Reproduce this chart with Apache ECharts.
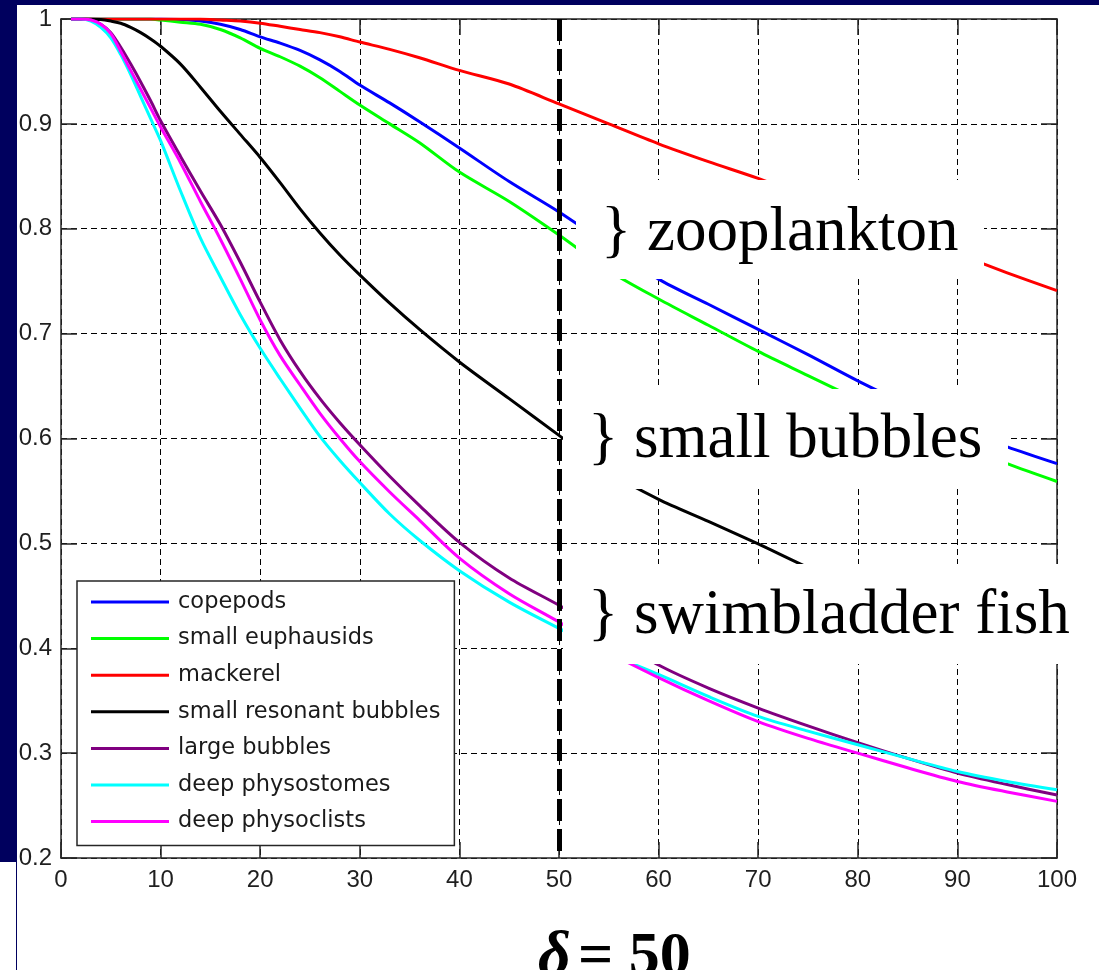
<!DOCTYPE html>
<html>
<head>
<meta charset="utf-8">
<title>Detection probability vs depth</title>
<script src="https://cdn.jsdelivr.net/npm/echarts@6/dist/echarts.min.js"></script>
<style>
  html, body { margin: 0; padding: 0; background: #ffffff; }
  #chart { width: 1099px; height: 970px; }
</style>
</head>
<body>
<div id="chart"></div>
<script>
// Sample positions shared by every curve
const xs = [1, 2, 3, 4, 5, 6, 7, 8, 9, 10, 12, 14, 16, 18, 20, 22, 24, 26, 28, 30, 33, 36, 40, 45, 50, 55, 60, 65, 70, 75, 80, 85, 90, 95, 100];

const copepods = [1, 1, 1, 1, 1, 1, 1, 1, 1, 1, 0.9995, 0.998, 0.995, 0.99, 0.983, 0.977, 0.97, 0.961, 0.95, 0.937, 0.92, 0.902, 0.877, 0.845, 0.816, 0.784, 0.752, 0.728, 0.704, 0.68, 0.655, 0.632, 0.61, 0.592, 0.576];
const smallEuphausids = [1, 1, 1, 1, 1, 1, 1, 1, 1, 0.999, 0.997, 0.995, 0.99, 0.982, 0.972, 0.964, 0.955, 0.944, 0.931, 0.918, 0.9, 0.882, 0.854, 0.826, 0.794, 0.76, 0.733, 0.708, 0.683, 0.66, 0.637, 0.614, 0.595, 0.576, 0.559];
const mackerel = [1, 1, 1, 1, 1, 1, 1, 1, 1, 1, 1, 1, 0.999, 0.998, 0.996, 0.993, 0.99, 0.987, 0.983, 0.978, 0.971, 0.963, 0.951, 0.938, 0.919, 0.9, 0.881, 0.864, 0.848, 0.83, 0.812, 0.794, 0.776, 0.758, 0.741];
const smallResonantBubbles = [1, 1, 1, 0.9995, 0.998, 0.996, 0.992, 0.987, 0.981, 0.974, 0.957, 0.935, 0.912, 0.89, 0.868, 0.844, 0.819, 0.796, 0.775, 0.756, 0.729, 0.704, 0.673, 0.638, 0.603, 0.568, 0.542, 0.521, 0.4995, 0.477, 0.457, 0.44, 0.425, 0.41, 0.395];
const largeBubbles = [1, 1, 0.999, 0.995, 0.987, 0.973, 0.957, 0.94, 0.922, 0.903, 0.869, 0.836, 0.804, 0.768, 0.73, 0.694, 0.664, 0.638, 0.615, 0.594, 0.564, 0.536, 0.501, 0.467, 0.441, 0.413, 0.384, 0.362, 0.343, 0.326, 0.31, 0.295, 0.281, 0.27, 0.26];
const deepPhysostomes = [1, 1, 0.998, 0.992, 0.982, 0.966, 0.947, 0.926, 0.905, 0.884, 0.836, 0.791, 0.754, 0.718, 0.686, 0.657, 0.629, 0.602, 0.579, 0.558, 0.528, 0.503, 0.474, 0.444, 0.419, 0.395, 0.375, 0.354, 0.335, 0.321, 0.308, 0.295, 0.2825, 0.273, 0.265];
const deepPhysoclists = [1, 1, 0.999, 0.995, 0.986, 0.969, 0.951, 0.933, 0.915, 0.897, 0.863, 0.826, 0.79, 0.752, 0.713, 0.679, 0.651, 0.624, 0.6, 0.578, 0.549, 0.522, 0.486, 0.452, 0.425, 0.396, 0.372, 0.35, 0.33, 0.314, 0.3, 0.286, 0.273, 0.263, 0.254];

const seriesNames = ['copepods', 'small euphausids', 'mackerel', 'small resonant bubbles', 'large bubbles', 'deep physostomes', 'deep physoclists'];
const seriesValues = [copepods, smallEuphausids, mackerel, smallResonantBubbles, largeBubbles, deepPhysostomes, deepPhysoclists];
const seriesColors = ['#0000ff', '#00ff00', '#ff0000', '#000000', '#800080', '#00ffff', '#ff00ff'];

// Axis ranges and the marked depth
const xRange = [0, 100, 10];
const yRange = [0.2, 1, 0.1];
const deltaValue = 50;

// Group annotations
const groupLabels = ['} zooplankton', '} small bubbles', '} swimbladder fish'];

const chart = echarts.init(document.getElementById('chart'), null, { renderer: 'canvas' });

const axisColor = '#262626';
const tickFont = { fontFamily: 'Liberation Sans', fontSize: 24, color: '#1f1f1f' };
const gridDash = { color: '#000', width: 1, type: [6, 4] };

function boxAxisX(position, showLabels) {
  return {
    type: 'value', position: position,
    min: xRange[0], max: xRange[1], interval: xRange[2],
    axisLine: { show: true, onZero: false, lineStyle: { color: axisColor, width: 1.5 } },
    axisTick: { show: true, inside: true, length: 16, lineStyle: { color: axisColor, width: 1.5 } },
    axisLabel: Object.assign({ show: showLabels, margin: 10 }, tickFont),
    splitLine: { show: showLabels, lineStyle: gridDash }
  };
}
function boxAxisY(position, showLabels) {
  return {
    type: 'value', position: position,
    min: yRange[0], max: yRange[1], interval: yRange[2],
    axisLine: { show: true, onZero: false, lineStyle: { color: axisColor, width: 1.5 } },
    axisTick: { show: true, inside: true, length: 16, lineStyle: { color: axisColor, width: 1.5 } },
    axisLabel: Object.assign({
      show: showLabels, margin: 9,
      formatter: function (v) { return v >= 0.999 ? '1' : v.toFixed(1); }
    }, tickFont),
    splitLine: { show: showLabels, lineStyle: gridDash }
  };
}

const series = seriesNames.map(function (name, k) {
  const s = {
    type: 'line',
    name: name,
    data: xs.map(function (x, i) { return [x, seriesValues[k][i]]; }),
    xAxisIndex: 0, yAxisIndex: 0,
    showSymbol: false, symbol: 'none',
    smooth: 0.3,
    lineStyle: { width: 3, color: seriesColors[k], join: 'round' },
    itemStyle: { color: seriesColors[k] },
    emphasis: { disabled: true },
    animation: false
  };
  if (k === seriesNames.length - 1) {
    s.markLine = {
      silent: true,
      symbol: ['none', 'none'],
      label: { show: false },
      lineStyle: { color: '#000', width: 5, type: [22, 8] },
      emphasis: { disabled: true },
      animation: false,
      data: [[{ coord: [deltaValue, yRange[1]] }, { coord: [deltaValue, yRange[0]] }]]
    };
  }
  return s;
});

const serifFont = '"Liberation Serif", "Times New Roman", serif';
function annotation(label, boxX, boxY, boxW, boxH, textX, textY) {
  return [
    { type: 'rect', z: 100, silent: true, shape: { x: boxX, y: boxY, width: boxW, height: boxH }, style: { fill: '#ffffff' } },
    { type: 'text', z: 101, silent: true, x: textX, y: textY,
      style: { text: label, fontFamily: serifFont, fontSize: 63, fill: '#000', align: 'left', verticalAlign: 'middle', textAlign: 'left', textVerticalAlign: 'middle' } }
  ];
}

const navy = '#00005e';
const graphic = [].concat(
  annotation(groupLabels[0], 576, 180, 408, 99, 601, 233),
  annotation(groupLabels[1], 563, 389, 445, 100, 588, 440),
  annotation(groupLabels[2], 563, 564, 527, 100, 588, 616),
  [
    { type: 'text', z: 101, silent: true, x: 538, y: 958,
      style: { text: 'δ', fontFamily: serifFont, fontSize: 64, fontWeight: 'bold', fontStyle: 'italic', fill: '#000', align: 'left', verticalAlign: 'middle', textAlign: 'left', textVerticalAlign: 'middle' } },
    { type: 'text', z: 101, silent: true, x: 578, y: 958,
      style: { text: '= ' + deltaValue, fontFamily: serifFont, fontSize: 62, fontWeight: 'bold', fill: '#000', align: 'left', verticalAlign: 'middle', textAlign: 'left', textVerticalAlign: 'middle' } },
    { type: 'rect', z: 200, silent: true, shape: { x: 0, y: 0, width: 1099, height: 5 }, style: { fill: navy } },
    { type: 'rect', z: 200, silent: true, shape: { x: 0, y: 0, width: 17, height: 862 }, style: { fill: navy } },
    { type: 'rect', z: 200, silent: true, shape: { x: 16, y: 862, width: 1, height: 108 }, style: { fill: navy } }
  ]
);

chart.setOption({
  backgroundColor: '#ffffff',
  animation: false,
  grid: { left: 61, top: 19, width: 996, height: 839, containLabel: false },
  xAxis: [boxAxisX('bottom', true), boxAxisX('top', false)],
  yAxis: [boxAxisY('left', true), boxAxisY('right', false)],
  legend: {
    orient: 'vertical', left: 77, top: 581,
    icon: 'rect', itemWidth: 78, itemHeight: 3, itemGap: 12.6,
    padding: [9, 14, 12, 14],
    backgroundColor: '#ffffff', borderColor: axisColor, borderWidth: 1.5,
    selectedMode: false,
    textStyle: { fontFamily: 'DejaVu Sans', fontSize: 22.5, color: '#1a1a1a', lineHeight: 24, padding: [0, 0, 0, 4] },
    data: seriesNames
  },
  series: series,
  graphic: graphic
});
</script>
</body>
</html>
